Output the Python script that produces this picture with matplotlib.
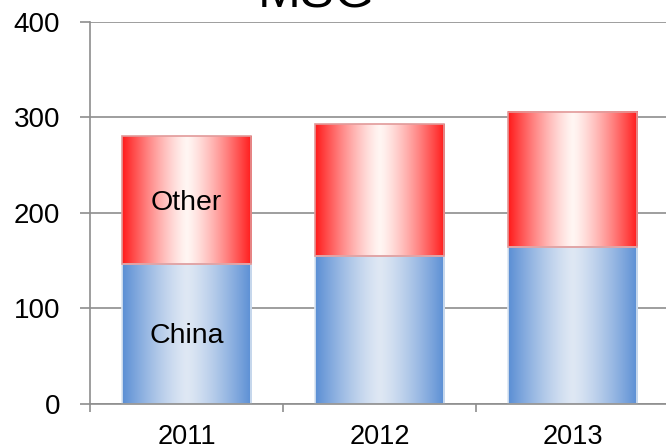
import numpy as np
import matplotlib
matplotlib.use("Agg")
import matplotlib.pyplot as plt
from matplotlib.colors import to_rgb
from matplotlib.ticker import FixedLocator

plt.rcParams['font.family'] = ['Liberation Sans', 'DejaVu Sans']

years = ["2011", "2012", "2013"]
china = [146, 155, 164]
other = [134, 138, 142]
title = "MSG"
y_ticks = [0, 100, 200, 300, 400]

bar_width = 0.67


def gradient_image(edge, center, n=256):
    t = np.linspace(0, 1, n)
    s = np.abs(2 * t - 1) ** 1.3
    e = np.array(to_rgb(edge))
    c = np.array(to_rgb(center))
    row = c[None, :] * (1 - s[:, None]) + e[None, :] * s[:, None]
    return row[None, :, :]


blue_img = gradient_image("#5a8ed4", "#dfe8f4")
red_img = gradient_image("#ff1a1a", "#fff6f3")

fig = plt.figure(figsize=(6.66, 4.46), dpi=100)
ax = fig.add_axes([90 / 666, (446 - 403.5) / 446, 579 / 666, 381.5 / 446])

x = np.arange(len(years))
series = [
    (china, [0] * len(china), blue_img, "#dce6f2", "China"),
    (other, china, red_img, "#e29a9a", "Other"),
]
for vals, bottoms, img, edge, name in series:
    bars = ax.bar(x, vals, bar_width, bottom=bottoms, color="none",
                  edgecolor=edge, linewidth=1.2, zorder=3)
    for b in bars:
        x0, y0 = b.get_x(), b.get_y()
        ax.imshow(img, extent=[x0, x0 + b.get_width(), y0, y0 + b.get_height()],
                  aspect="auto", interpolation="bilinear", zorder=2)

# Series names written on the first column
ax.text(x[0], china[0] + other[0] / 2 - 3, "Other", ha="center", va="center",
        fontsize=20.5, color="black", zorder=4)
ax.text(x[0], china[0] / 2 - 2, "China", ha="center", va="center",
        fontsize=20.5, color="black", zorder=4)

ax.set_xlim(-0.5, len(years) - 0.5)
ax.set_ylim(0, 400)

ax.set_yticks(y_ticks)
ax.set_yticklabels([str(v) for v in y_ticks])
ax.set_xticks(x)
ax.set_xticklabels(years)
ax.xaxis.set_minor_locator(FixedLocator(np.arange(-0.5, len(years), 1.0)))

grid_color = "#8e8e8e"
ax.yaxis.grid(True, color=grid_color, linewidth=1.2, zorder=0)
ax.set_axisbelow(True)

for side in ["top", "right"]:
    ax.spines[side].set_visible(False)
for side in ["left", "bottom"]:
    ax.spines[side].set_color(grid_color)
    ax.spines[side].set_linewidth(1.2)
    ax.spines[side].set_zorder(5)

ax.tick_params(axis="y", length=7.5, width=1.2, color=grid_color,
               labelsize=20, pad=14)
ax.tick_params(axis="x", which="major", length=0, labelsize=19.5, pad=15)
ax.tick_params(axis="x", which="minor", length=6, width=1.2, color=grid_color)

fig.text(316 / 666, 1 - 7 / 446, title, ha="center", va="baseline",
         fontsize=37, color="black")

fig.savefig("out.png", dpi=100)
